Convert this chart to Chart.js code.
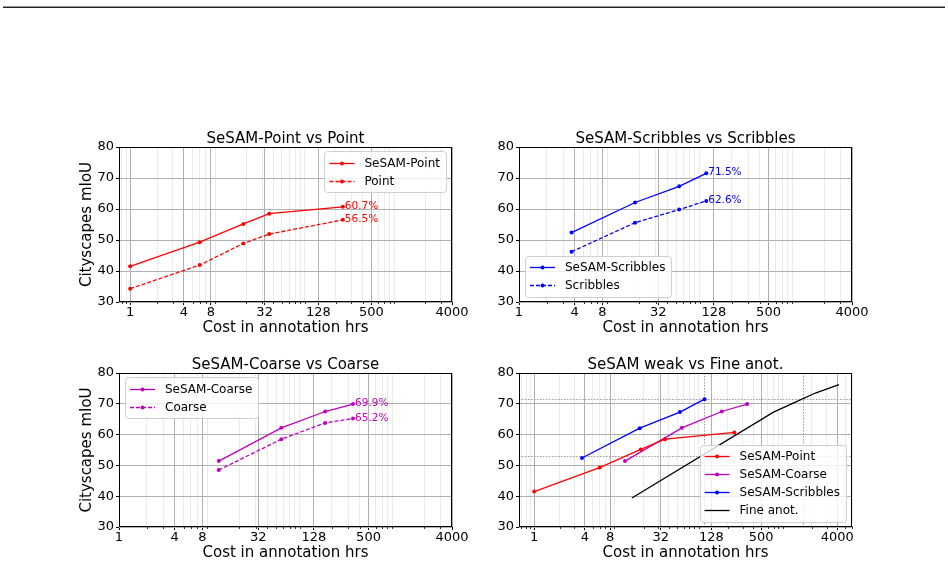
<!DOCTYPE html>
<html>
<head>
<meta charset="utf-8">
<script src="https://cdn.jsdelivr.net/npm/chart.js@4.4.0/dist/chart.umd.min.js"></script>
<style>
  body { margin: 0; background: #fff; width: 948px; height: 565px; position: relative; overflow: hidden; }
  .topline { position: absolute; left: 3px; right: 3px; top: 6px; height: 1px; background: #999; border-bottom: 1px solid #222; }
  canvas { position: absolute; }
</style>
</head>
<body>
<div class="topline"></div>
<canvas id="c1" width="470" height="235" style="left:0px;top:110px"></canvas>
<canvas id="c2" width="478" height="235" style="left:470px;top:110px"></canvas>
<canvas id="c3" width="470" height="220" style="left:0px;top:345px"></canvas>
<canvas id="c4" width="478" height="220" style="left:470px;top:345px"></canvas>
<script>
const FONT = '"DejaVu Sans", sans-serif';

// tick labels
const xTicks = [1, 4, 8, 32, 128, 500, 4000];
const yTicks = [30, 40, 50, 60, 70, 80];

// SeSAM-Point vs Point
const pointHrs = [1, 6, 18.5, 36, 240];
const sesamPoint = [41.5, 49.3, 55.2, 58.5, 60.7];
const pointOnly = [34.3, 41.9, 48.9, 51.9, 56.5];

// SeSAM-Scribbles vs Scribbles
const scribbleHrs = [3.7, 18, 54, 106];
const sesamScribbles = [52.4, 62.1, 67.3, 71.5];
const scribblesOnly = [46.2, 55.6, 59.8, 62.6];

// SeSAM-Coarse vs Coarse
const coarseHrs = [12, 57, 170, 340];
const sesamCoarse = [51.4, 62.2, 67.5, 69.9];
const coarseOnly = [48.5, 58.5, 63.8, 65.2];

// fully supervised (fine annotation)
const fineHrs = [14.5, 700, 1200, 2200, 4200];
const fineAnot = [39.4, 67.3, 70.2, 73.5, 76.2];

// dotted reference lines in the last panel
const refHrs = [104, 1550];
const refIoU = [71.6, 53.2];

const RED = '#ff0000', BLUE = '#0000ff', MAG = '#bf00bf';

function isMajor(v) {
  return xTicks.some(t => Math.abs(t - v) < 1e-6 * t);
}

// matplotlib style log minor positions (2..9 x 10^n) plus the fixed major ticks
function gridValues(min, max) {
  const vals = xTicks.filter(v => v >= min && v <= max);
  for (let e = -1; e <= 4; e++) {
    for (let m = 2; m <= 9; m++) {
      const v = m * Math.pow(10, e);
      if (v >= min && v <= max && !isMajor(v)) vals.push(v);
    }
  }
  return vals.sort((a, b) => a - b);
}

function series(label, xs, ys, color, dashed, endLabel, radius) {
  return {
    label: label,
    data: xs.map((x, i) => ({ x: x, y: ys[i] })),
    borderColor: color,
    backgroundColor: color,
    borderWidth: 1.3,
    borderDash: dashed ? [4, 2] : [],
    pointRadius: radius === undefined ? 2 : radius,
    pointHoverRadius: 0,
    pointBorderWidth: 0,
    tension: 0,
    fill: false,
    endLabel: endLabel
  };
}

function xScale(min, max) {
  return {
    type: 'logarithmic',
    min: min,
    max: max,
    afterBuildTicks: s => { s.ticks = gridValues(min, max).map(v => ({ value: v })); },
    afterFit: s => { s.height = 38; },
    ticks: {
      autoSkip: false, maxRotation: 0, minRotation: 0, padding: 0,
      color: '#000', font: { size: 13, family: FONT },
      callback: v => isMajor(v) ? String(Math.round(v)) : ''
    },
    grid: {
      color: c => isMajor(c.tick.value) ? '#b0b0b0' : '#ebebeb',
      tickColor: c => isMajor(c.tick.value) ? '#000' : 'rgba(0,0,0,0)',
      tickLength: 3,
      lineWidth: 1
    },
    border: { display: false },
    title: {
      display: true, text: 'Cost in annotation hrs', color: '#000',
      font: { size: 15, family: FONT }, padding: { top: 0, bottom: 3 }
    }
  };
}

function yScale(width, withTitle) {
  return {
    type: 'linear',
    min: 30,
    max: 80,
    afterBuildTicks: s => { s.ticks = yTicks.map(v => ({ value: v })); },
    afterFit: s => { s.width = width; },
    ticks: { color: '#000', font: { size: 13, family: FONT }, padding: 2 },
    grid: { color: '#b0b0b0', tickColor: '#000', tickLength: 3, lineWidth: 1 },
    border: { display: false },
    title: {
      display: withTitle, text: 'Cityscapes mIoU', color: '#000',
      font: { size: 15, family: FONT }, padding: { top: 78.5, bottom: 0 }
    }
  };
}

// axes frame on all four sides + short minor tick marks on the log axis
const frame = {
  id: 'frame',
  afterDatasetsDraw(chart) {
    const a = chart.chartArea, ctx = chart.ctx, sx = chart.scales.x;
    ctx.save();
    ctx.strokeStyle = '#000';
    ctx.lineWidth = 1;
    const l = Math.round(a.left) + 0.5, t = Math.round(a.top) + 0.5;
    const r = Math.round(a.right) - 0.5, b = Math.round(a.bottom) - 0.5;
    ctx.strokeRect(l, t, r - l, b - t);
    ctx.lineWidth = 0.8;
    sx.ticks.forEach(tk => {
      if (isMajor(tk.value)) return;
      const x = Math.round(sx.getPixelForValue(tk.value)) + 0.5;
      ctx.beginPath(); ctx.moveTo(x, b); ctx.lineTo(x, b + 2.5); ctx.stroke();
    });
    ctx.restore();
  }
};

// axes title centred over the plot area (not the whole canvas)
const axTitle = {
  id: 'axTitle',
  afterDraw(chart, args, o) {
    const { ctx, chartArea: a } = chart;
    ctx.save();
    ctx.font = '15px ' + FONT;
    ctx.fillStyle = '#000';
    ctx.textAlign = 'center';
    ctx.textBaseline = 'alphabetic';
    ctx.fillText(o.text, (a.left + a.right) / 2, a.top - 4);
    ctx.restore();
  }
};

// "60.7%" style labels at the end of a line
const endLabels = {
  id: 'endLabels',
  afterDatasetsDraw(chart) {
    const ctx = chart.ctx;
    ctx.save();
    ctx.font = '10.5px ' + FONT;
    ctx.textBaseline = 'alphabetic';
    chart.data.datasets.forEach((d, i) => {
      if (!d.endLabel) return;
      const meta = chart.getDatasetMeta(i);
      const p = meta.data[meta.data.length - 1];
      const v = d.data[d.data.length - 1].y;
      ctx.fillStyle = d.borderColor;
      ctx.fillText(v.toFixed(1) + '%', p.x + 2, p.y + 2);
    });
    ctx.restore();
  }
};

// dotted helper lines
const refLines = {
  id: 'refLines',
  beforeDatasetsDraw(chart, args, o) {
    if (!o.xs) return;
    const { ctx, chartArea: a, scales } = chart;
    ctx.save();
    ctx.strokeStyle = '#9a9a9a';
    ctx.lineWidth = 1;
    ctx.setLineDash([1.5, 1.5]);
    o.xs.forEach(v => {
      const x = Math.round(scales.x.getPixelForValue(v)) + 0.5;
      ctx.beginPath(); ctx.moveTo(x, a.top); ctx.lineTo(x, a.bottom); ctx.stroke();
    });
    o.ys.forEach(v => {
      const y = Math.round(scales.y.getPixelForValue(v)) + 0.5;
      ctx.beginPath(); ctx.moveTo(a.left, y); ctx.lineTo(a.right, y); ctx.stroke();
    });
    ctx.restore();
  }
};

// matplotlib like legend box inside the axes
const boxLegend = {
  id: 'boxLegend',
  afterDraw(chart, args, o) {
    if (!o.loc) return;
    const { ctx, chartArea: a } = chart;
    const items = chart.data.datasets;
    ctx.save();
    ctx.font = '12px ' + FONT;
    const tw = Math.max(...items.map(d => ctx.measureText(d.label).width));
    const w = 40 + tw + 6, h = 22.5 + (items.length - 1) * 18;
    const x = o.loc[1] === 'r' ? a.right - 6 - w : a.left + 6;
    const y = o.loc[0] === 'u' ? a.top + 4 : a.bottom - 6 - h;
    ctx.fillStyle = 'rgba(255,255,255,0.8)';
    ctx.strokeStyle = '#d0d0d0';
    ctx.lineWidth = 1;
    ctx.beginPath();
    ctx.roundRect(Math.round(x) + 0.5, Math.round(y) + 0.5, Math.round(w), Math.round(h), 3);
    ctx.fill();
    ctx.stroke();
    items.forEach((d, i) => {
      const cy = Math.round(y + 11.5 + i * 18) + 0.5;
      ctx.strokeStyle = d.borderColor;
      ctx.lineWidth = 1.3;
      ctx.setLineDash(d.borderDash || []);
      ctx.beginPath(); ctx.moveTo(x + 5, cy); ctx.lineTo(x + 30, cy); ctx.stroke();
      ctx.setLineDash([]);
      if (d.pointRadius > 0) {
        ctx.fillStyle = d.borderColor;
        ctx.beginPath(); ctx.arc(x + 17.5, cy, d.pointRadius, 0, Math.PI * 2); ctx.fill();
      }
      ctx.fillStyle = '#000';
      ctx.textBaseline = 'middle';
      ctx.fillText(d.label, x + 40, cy);
    });
    ctx.restore();
  }
};

function makeChart(id, cfg) {
  return new Chart(document.getElementById(id), {
    type: 'line',
    data: { datasets: cfg.datasets },
    options: {
      responsive: false,
      animation: false,
      devicePixelRatio: 1,
      events: [],
      layout: { padding: cfg.padding },
      scales: { x: xScale(cfg.xmin, cfg.xmax), y: yScale(cfg.yWidth, cfg.yTitle) },
      plugins: {
        legend: { display: false },
        tooltip: { enabled: false },
        title: { display: false },
        axTitle: { text: cfg.title },
        boxLegend: { loc: cfg.legend },
        refLines: cfg.ref || {}
      }
    },
    plugins: [refLines, frame, endLabels, axTitle, boxLegend]
  });
}

makeChart('c1', {
  title: 'SeSAM-Point vs Point',
  xmin: 0.75, xmax: 4000, yWidth: 119, yTitle: true,
  padding: { top: 37, right: 18, bottom: 5, left: 0 },
  legend: 'ur',
  datasets: [
    series('SeSAM-Point', pointHrs, sesamPoint, RED, false, true),
    series('Point', pointHrs, pointOnly, RED, true, true)
  ]
});

makeChart('c2', {
  title: 'SeSAM-Scribbles vs Scribbles',
  xmin: 1, xmax: 4000, yWidth: 49, yTitle: false,
  padding: { top: 37, right: 96, bottom: 5, left: 0 },
  legend: 'll',
  datasets: [
    series('SeSAM-Scribbles', scribbleHrs, sesamScribbles, BLUE, false, true),
    series('Scribbles', scribbleHrs, scribblesOnly, BLUE, true, true)
  ]
});

makeChart('c3', {
  title: 'SeSAM-Coarse vs Coarse',
  xmin: 1, xmax: 4000, yWidth: 119, yTitle: true,
  padding: { top: 28, right: 18, bottom: 0, left: 0 },
  legend: 'ul',
  datasets: [
    series('SeSAM-Coarse', coarseHrs, sesamCoarse, MAG, false, true),
    series('Coarse', coarseHrs, coarseOnly, MAG, true, true)
  ]
});

makeChart('c4', {
  title: 'SeSAM weak vs Fine anot.',
  xmin: 0.66, xmax: 6000, yWidth: 49, yTitle: false,
  padding: { top: 28, right: 96, bottom: 0, left: 0 },
  legend: 'lr',
  ref: { xs: refHrs, ys: refIoU },
  datasets: [
    series('SeSAM-Point', pointHrs, sesamPoint, RED, false, false),
    series('SeSAM-Coarse', coarseHrs, sesamCoarse, MAG, false, false),
    series('SeSAM-Scribbles', scribbleHrs, sesamScribbles, BLUE, false, false),
    series('Fine anot.', fineHrs, fineAnot, '#000', false, false, 0)
  ]
});
</script>
</body>
</html>
